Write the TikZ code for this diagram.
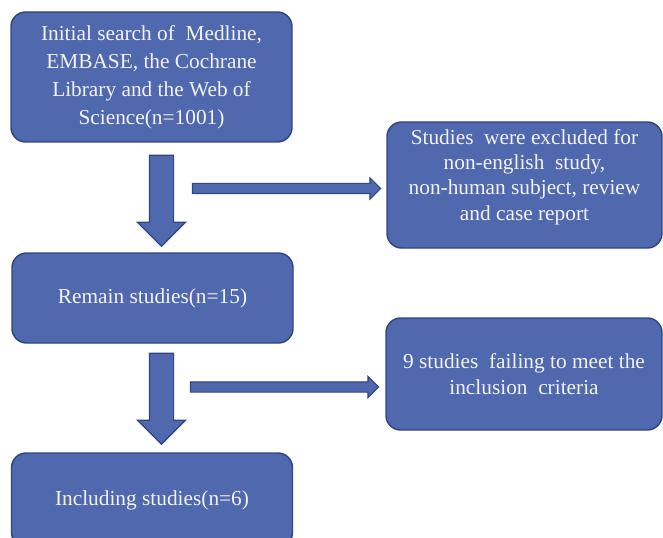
\documentclass[tikz,border=0pt]{standalone}
\usepackage{fontspec}
\setmainfont{Liberation Serif}
\usetikzlibrary{calc,positioning,shapes.arrows}
\definecolor{boxblue}{RGB}{80,104,174}
\definecolor{boxedge}{RGB}{47,70,128}
\definecolor{boxtext}{RGB}{242,242,242}
\tikzset{
  stagebox/.style={draw=boxedge, fill=boxblue, line width=1.1pt, rounded corners=11pt, align=center, text=boxtext, font=\fontsize{16}{21}\selectfont, minimum width=210.75pt},
  excludebox/.style={stagebox, font=\fontsize{16}{19}\selectfont},
  downarrow/.style={single arrow, draw=boxedge, fill=boxblue, line width=0.9pt, shape border rotate=270, inner sep=8.625pt, single arrow head extend=9pt, single arrow head indent=0pt, minimum height=68.25pt},
  sidearrow/.style={single arrow, draw=boxedge, fill=boxblue, line width=0.8pt, inner sep=3.375pt, single arrow head extend=4.125pt, single arrow head indent=0pt, minimum height=141pt}
}
\begin{document}
\begin{tikzpicture}[x=0.75pt, y=-0.75pt]
  \useasboundingbox (0,0) rectangle (663,538);
  \node[stagebox, minimum height=97.5pt] (search) at (151.5,77) {Initial search of~ Medline,\\EMBASE, the Cochrane\\Library and the Web of\\Science(n=1001)};
  \node[stagebox, minimum height=67.5pt] (remain) at (152.5,298) {Remain studies(n=15)};
  \node[stagebox, minimum height=70.5pt] (include) at (152,500) {Including studies(n=6)};
  \node[excludebox, minimum width=206.25pt, minimum height=94.5pt, text depth=15.5pt] (excluded) at (524.5,185) {Studies~ were excluded for\\non-english~ study,\\non-human subject, review\\and case report};
  \node[excludebox, minimum width=207pt, minimum height=84pt] (failing) at (524,374) {9 studies~ failing to meet the\\inclusion~ criteria};

  \node[downarrow, anchor=tail] (down1) at ($(search.south)+(10,12)$) {};
  \node[downarrow, anchor=tail] (down2) at ($(remain.south)+(9,9)$) {};
  \node[sidearrow, anchor=tip] (side1) at ($(excluded.west)+(-5,3.5)$) {};
  \node[sidearrow, anchor=tip] (side2) at ($(failing.west)+(-6,13)$) {};
\end{tikzpicture}
\end{document}
